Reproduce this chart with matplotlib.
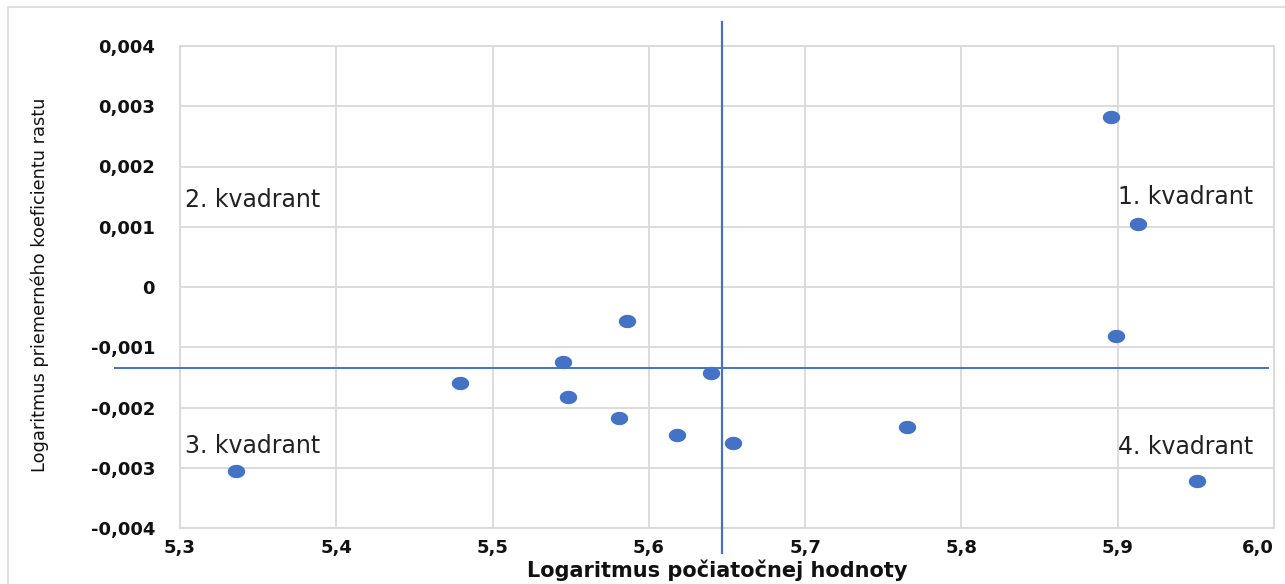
import numpy as np
import matplotlib
matplotlib.use("Agg")
import matplotlib.pyplot as plt
from matplotlib.ticker import FuncFormatter
from matplotlib.patches import Rectangle

# data
x_vals = [5.896, 5.913, 5.899, 5.586, 5.545, 5.479, 5.548, 5.640,
          5.581, 5.618, 5.654, 5.765, 5.336, 5.951]
y_vals = [0.00282, 0.00105, -0.00081, -0.00056, -0.00124, -0.00159, -0.00183, -0.00142,
          -0.00218, -0.00246, -0.00259, -0.00232, -0.00305, -0.00322]
quad_x = 5.647
quad_y = -0.00134
quad_labels = ["1. kvadrant", "2. kvadrant", "3. kvadrant", "4. kvadrant"]
quad_label_pos = [(5.900, 0.00150), (5.303, 0.00144), (5.303, -0.00264), (5.900, -0.00266)]
x_ticks = [5.3, 5.4, 5.5, 5.6, 5.7, 5.8, 5.9, 6.0]
y_ticks = [-0.004, -0.003, -0.002, -0.001, 0.0, 0.001, 0.002, 0.003, 0.004]

BLUE = "#4472C4"
GRID = "#d9d9d9"

fig = plt.figure(figsize=(12.85, 5.84), dpi=100)
ax = fig.add_axes([180 / 1285, 56 / 584, 1094 / 1285, 482 / 584])

# outer chart border (cropped on right/bottom in the reference)
fig.patches.append(Rectangle((8 / 1285, -0.05), 1.1, (584 - 7) / 584 + 0.05,
                             transform=fig.transFigure, fill=False,
                             edgecolor=GRID, linewidth=1.2))

t = np.linspace(0, 2 * np.pi, 40)
ellipse = np.column_stack([np.cos(t), 0.75 * np.sin(t)])
ax.plot(x_vals, y_vals, linestyle="none", marker=ellipse, markersize=11.5,
        color=BLUE, zorder=4)

# quadrant lines
ax.plot([-0.0594, 0.9945], [quad_y, quad_y], color=BLUE, lw=1.4,
        transform=ax.get_yaxis_transform(), clip_on=False, zorder=3)
ax.plot([quad_x, quad_x], [-0.052, 1.0498], color=BLUE, lw=1.6,
        transform=ax.get_xaxis_transform(), clip_on=False, zorder=3)

for lab, (lx, ly) in zip(quad_labels, quad_label_pos):
    ax.text(lx, ly, lab, fontsize=17, family="DejaVu Sans", color="#222222",
            ha="left", va="center", zorder=5)

ax.set_xlim(5.3, 6.0)
ax.set_ylim(-0.004, 0.004)
ax.set_xticks(x_ticks)
ax.set_yticks(y_ticks)


def fmt_x(v, pos):
    return f"{v:.1f}".replace(".", ",")


def fmt_y(v, pos):
    if abs(v) < 1e-9:
        return "0"
    return f"{v:.3f}".replace(".", ",")


ax.xaxis.set_major_formatter(FuncFormatter(fmt_x))
ax.yaxis.set_major_formatter(FuncFormatter(fmt_y))
ax.tick_params(length=0, labelsize=13, colors="#111111")
ax.tick_params(axis="y", pad=18)
ax.tick_params(axis="x", pad=8)
for tk in ax.xaxis.get_major_ticks() + ax.yaxis.get_major_ticks():
    tk.label1.set_fontweight("bold")
# last x label sits inside the plot edge, as in Excel
ax.xaxis.get_major_ticks()[-1].label1.set_horizontalalignment("right")

ax.grid(True, color=GRID, lw=1.3)
ax.set_axisbelow(True)
for s in ax.spines.values():
    s.set_color(GRID)
    s.set_linewidth(1.3)

fig.text(717 / 1285, 1 - 570 / 584, "Logaritmus počiatočnej hodnoty",
         ha="center", va="center", fontsize=15, fontweight="bold", color="#111111")
fig.text(40 / 1285, 1 - 285 / 584, "Logaritmus priemerného koeficientu rastu",
         ha="center", va="center", rotation=90, fontsize=12.8, color="#111111")

fig.savefig("out.png", dpi=100)
